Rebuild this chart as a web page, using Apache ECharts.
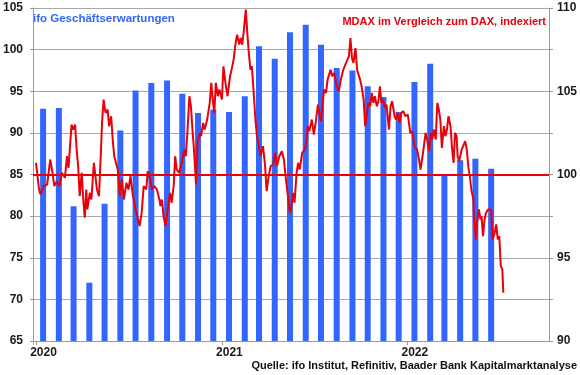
<!DOCTYPE html>
<html>
<head>
<meta charset="utf-8">
<script src="https://cdn.jsdelivr.net/npm/echarts@6/dist/echarts.min.js"></script>
<style>
  html, body { margin: 0; padding: 0; background: #fff; }
  #chart { width: 580px; height: 375px; }
</style>
</head>
<body>
<div id="chart"></div>
<script>
// ifo Geschäftserwartungen, monthly (left axis)
const months = ['2020-01', '2020-02', '2020-03', '2020-04', '2020-05', '2020-06',
  '2020-07', '2020-08', '2020-09', '2020-10', '2020-11', '2020-12',
  '2021-01', '2021-02', '2021-03', '2021-04', '2021-05', '2021-06',
  '2021-07', '2021-08', '2021-09', '2021-10', '2021-11', '2021-12',
  '2022-01', '2022-02', '2022-03', '2022-04', '2022-05', '2022-06'];
const ifoValues = [92.9, 93.0, 81.2, 72.0, 81.5, 90.3, 95.1, 96.0, 96.3, 94.7, 92.4, 92.8,
  92.5, 94.4, 100.4, 98.9, 102.1, 103.0, 100.6, 97.8, 97.5, 95.6, 94.3, 92.5,
  96.1, 98.3, 84.9, 86.7, 86.9, 85.7];

// MDAX relative to DAX, indexed (right axis); days counted from 2020-01-01
const mdaxDays = [0, 3, 6, 9, 15, 22, 28, 32, 36, 41, 46, 51, 57, 61, 64, 70, 73, 77, 80, 83,
  86, 90, 93, 96, 99, 101, 106, 109, 114, 117, 120, 124, 128, 130, 133, 137, 141, 144, 148, 151,
  154, 161, 165, 169, 173, 178, 182, 186, 190, 196, 201, 204, 208, 212, 217, 220, 225, 228, 233, 238, 243,
  245, 248, 251, 255, 260, 264, 267, 271, 274, 277, 282, 287, 292, 295, 298, 302, 305, 308, 311, 315,
  318, 322, 325, 329, 332, 337, 342, 345, 348, 351, 354, 358, 361, 366, 369, 373, 377, 382, 385, 389,
  393, 396, 400, 403, 406, 409, 413, 416, 419, 422, 425, 429, 432, 435, 438, 442, 447, 451, 454, 458,
  462, 467, 471, 474, 479, 484, 488, 492,
  496, 500, 503, 506, 509, 513, 516, 519, 524, 529, 532, 535, 538, 543, 547, 551, 555, 558, 561, 564,
  567, 571, 574, 577, 580, 583, 587, 592, 596, 600, 605, 609, 613, 616, 619, 622, 625, 629, 632, 635,
  638, 641, 645, 648, 651, 654, 658, 661, 664, 667, 671, 674, 677, 680, 683, 687, 690, 695, 698, 701,
  706, 709, 712, 716, 719, 723, 727, 732,
  735, 737, 741, 745, 750, 754, 757, 761, 764, 767, 770, 774, 777, 780, 783, 787, 790, 793, 796, 799,
  803, 806, 809, 812, 816, 819, 822, 825, 828, 830, 833, 838, 841, 845, 848, 851, 854, 857, 861, 862,
  866, 868, 872, 875, 877, 880, 883, 886, 890, 893, 896, 899, 903, 906, 909, 912, 915, 918, 920];
const mdaxValues = [100.7, 100.7, 99.1, 98.8, 99.3, 99.4, 100.9, 100.2, 99.3, 99.6, 99.3, 100.1, 99.8, 101.1, 100.4, 103.0, 102.7, 103.0, 101.5, 100.5,
  98.7, 100.1, 98.5, 97.4, 99.1, 97.9, 98.9, 98.5, 100.7, 99.9, 99.1, 98.7, 101.5, 103.1, 104.5, 103.7, 103.9, 102.9, 103.5, 102.1,
  101.1, 100.3, 98.7, 99.7, 98.5, 99.5, 99.1, 99.9, 98.9, 97.9, 97.3, 96.9, 97.7, 99.3, 99.1, 100.2, 99.7, 99.1, 99.3, 99.1, 98.5,
  98.1, 98.5, 97.5, 96.9, 98.1, 98.9, 98.3, 99.3, 101.1, 100.3, 100.1, 100.7, 101.5, 101.1, 102.5, 104.7, 104.1, 102.7, 101.5, 99.4,
  101.9, 102.5, 102.3, 103.1, 102.7, 103.3, 104.3, 105.5, 104.5, 103.7, 105.5, 104.7, 105.1, 104.5, 106.5, 105.5, 104.7, 105.9, 106.3, 106.9,
  107.9, 108.4, 107.8, 108.2, 107.8, 108.6, 109.9, 108.5, 107.3, 106.3, 106.5, 104.7, 103.3, 102.3, 101.9, 101.1, 101.7, 100.5, 99.0, 99.9,
  100.5, 100.6, 101.3, 100.5, 101.1, 101.4, 100.9, 99.7,
  98.7, 97.7, 98.1, 98.9, 98.3, 100.1, 100.7, 100.3, 101.3, 101.5, 101.9, 102.9, 102.6, 103.3, 102.4, 103.2, 104.2, 103.7, 103.2, 104.1,
  105.1, 104.9, 105.7, 105.6, 106.3, 105.9, 106.1, 105.3, 105.0, 105.7, 106.3, 106.6, 106.9, 107.1, 108.2, 107.0, 106.7, 107.6, 106.3, 106.2,
  105.7, 105.3, 104.5, 102.9, 103.5, 104.3, 104.1, 104.9, 104.3, 104.7, 104.1, 104.4, 105.3, 104.3, 104.5, 104.0, 104.2, 102.7, 104.1, 104.4,
  103.5, 103.3, 103.7, 103.1, 103.7, 103.8, 103.5, 103.6,
  103.6, 102.5, 102.6, 101.7, 101.5, 100.9, 100.3, 101.1, 101.0, 102.5, 102.1, 101.4, 102.5, 102.1, 102.7, 102.1, 104.3, 103.9, 103.3, 101.6,
  102.9, 102.3, 102.7, 103.5, 102.9, 101.6, 100.7, 102.5, 102.3, 101.1, 100.8, 101.5, 101.6, 102.0, 101.5, 100.5, 99.9, 99.1, 98.5, 97.5,
  96.1, 97.1, 97.9, 97.3, 97.5, 96.3, 97.3, 97.7, 97.9, 97.8, 97.9, 96.1, 96.5, 97.0, 96.1, 96.3, 94.5, 94.3, 92.9];

const referenceLevel = 100;

const blue = '#3366ff';
const red = '#e8000b';
const font = '"Liberation Sans", Arial, sans-serif';

let chart = echarts.init(document.getElementById('chart'));

let barData = months.map((m, i) => {
  let parts = m.split('-');
  return [new Date(+parts[0], +parts[1] - 1, 15), ifoValues[i]];
});
let lineData = mdaxDays.map((d, i) => [new Date(2020, 0, 1 + d), mdaxValues[i]]);

let option = {
  animation: false,
  textStyle: { fontFamily: font },
  grid: { left: 30, right: 30, top: 8, bottom: 34 },
  xAxis: {
    type: 'time',
    min: new Date(2020, 0, 1),
    max: new Date(2022, 9, 1),
    minInterval: 365 * 24 * 3600 * 1000,
    axisLine: { lineStyle: { color: '#999' } },
    axisTick: { show: true, length: 4, lineStyle: { color: '#999' } },
    axisLabel: {
      showMinLabel: true,
      showMaxLabel: false,
      alignMinLabel: 'center',
      formatter: (v) => {
        let d = new Date(v);
        return (d.getMonth() === 0 && d.getDate() === 1) ? String(d.getFullYear()) : '';
      },
      color: '#1a1a1a',
      fontWeight: 'bold',
      fontSize: 12,
      fontFamily: font,
      margin: 6,
      padding: [0, 0, 0, 15]
    },
    splitLine: { show: false }
  },
  yAxis: [
    {
      type: 'value',
      min: 65,
      max: 105,
      interval: 5,
      position: 'left',
      axisLine: { show: true, lineStyle: { color: '#999' } },
      axisTick: { show: true, length: 3, lineStyle: { color: '#999' } },
      axisLabel: { color: '#1a1a1a', fontWeight: 'bold', fontSize: 12, fontFamily: font, margin: 10 },
      splitLine: { lineStyle: { color: '#a8a8a8' } }
    },
    {
      type: 'value',
      min: 90,
      max: 110,
      interval: 2.5,
      position: 'right',
      axisLine: { show: true, lineStyle: { color: '#999' } },
      axisTick: { show: true, length: 4, lineStyle: { color: '#999' } },
      axisLabel: {
        color: '#1a1a1a', fontWeight: 'bold', fontSize: 12, fontFamily: font, margin: 8,
        formatter: (v) => (v % 5 === 0 ? String(v) : '')
      },
      splitLine: { show: false }
    }
  ],
  series: [
    {
      name: 'ifo Geschäftserwartungen',
      type: 'bar',
      yAxisIndex: 0,
      barWidth: 6,
      itemStyle: { color: blue },
      data: barData
    },
    {
      name: 'MDAX im Vergleich zum DAX, indexiert',
      type: 'line',
      yAxisIndex: 1,
      showSymbol: false,
      lineStyle: { color: red, width: 2 },
      itemStyle: { color: red },
      data: lineData,
      markLine: {
        silent: true,
        symbol: 'none',
        label: { show: false },
        lineStyle: { color: red, width: 2, type: 'solid' },
        data: [{ yAxis: referenceLevel }]
      }
    }
  ],
  graphic: [
    {
      type: 'text', left: 33, top: 13,
      style: { text: 'ifo Geschäftserwartungen', fill: blue, font: 'bold 11.5px ' + font }
    },
    {
      type: 'text', right: 34, top: 16,
      style: { text: 'MDAX im Vergleich zum DAX, indexiert', fill: red, font: 'bold 11px ' + font }
    },
    {
      type: 'text', right: 3, top: 360,
      style: { text: 'Quelle: ifo Institut, Refinitiv, Baader Bank Kapitalmarktanalyse', fill: '#111', font: 'bold 11px ' + font }
    }
  ]
};
chart.setOption(option);
window.addEventListener('resize', () => {
  chart.resize();
});
</script>
</body>
</html>
